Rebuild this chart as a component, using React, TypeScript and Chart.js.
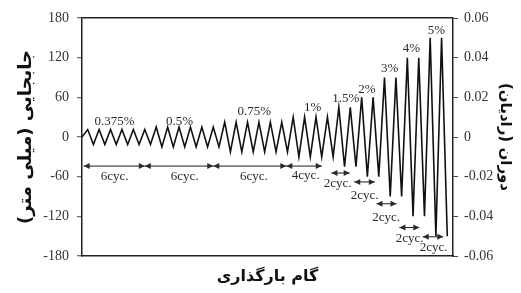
import React, { useEffect, useRef } from "react";
import { Chart, registerables } from "chart.js";

Chart.register(...registerables);

// Displacement history (mm): start, then peak / trough of every cycle
const DISP = [
  0,
  11.25, -11.25, 11.25, -11.25, 11.25, -11.25, 11.25, -11.25, 11.25, -11.25, 11.25, -11.25,
  15, -15, 15, -15, 15, -15, 15, -15, 15, -15, 15, -15,
  22.5, -22.5, 22.5, -22.5, 22.5, -22.5, 22.5, -22.5, 22.5, -22.5, 22.5, -22.5,
  30, -30, 30, -30, 30, -30, 30, -30,
  45, -45, 45, -45,
  60, -60, 60, -60,
  90, -90, 90, -90,
  120, -120, 120, -120,
  150, -150, 150, -150,
];
const STEPS = DISP.map((_, i) => i);

const LEFT_TICKS = [-180, -120, -60, 0, 60, 120, 180];
const RIGHT_TICKS = [-0.06, -0.04, -0.02, 0, 0.02, 0.04, 0.06];

// Drift-level labels (step, displacement)
const DRIFT_LABELS = ["0.375%", "0.5%", "0.75%", "1%", "1.5%", "2%", "3%", "4%", "5%"];
const DRIFT_X = [5.7, 17.1, 30.2, 40.4, 46.2, 49.9, 53.9, 57.7, 62.1];
const DRIFT_Y = [22.7, 22.7, 37.8, 45, 57.5, 71, 104, 134, 161];

// Cycle-count arrows
const CYC_LABELS = ["6cyc.", "6cyc.", "6cyc.", "4cyc.", "2cyc.", "2cyc.", "2cyc.", "2cyc.", "2cyc."];
const CYC_FROM = [0.3, 11, 23, 35.8, 43.7, 47.7, 51.6, 55.6, 59.7];
const CYC_TO = [11, 23, 35.8, 42, 46.9, 51.3, 55.1, 59.1, 63.3];
const CYC_Y = [-44, -44, -44, -44, -54.5, -68, -101, -137, -151];
const CYC_TEXT_X = [5.7, 18, 30.1, 39.2, 44.8, 49.5, 53.3, 57.4, 61.6];
const CYC_TEXT_Y = [-60, -60, -60, -58, -71, -89, -122, -154, -168];

const annotationPlugin = {
  id: "annotations",
  afterDatasetsDraw(chart: any) {
    const { ctx } = chart;
    const x = chart.scales.x;
    const y = chart.scales.y;
    ctx.save();
    ctx.fillStyle = "#2a2a2a";
    ctx.strokeStyle = "#1a1a1a";
    ctx.textAlign = "center";
    ctx.textBaseline = "middle";
    ctx.font = '13px "Liberation Serif"';
    DRIFT_LABELS.forEach((t, i) => {
      ctx.fillText(t, x.getPixelForValue(DRIFT_X[i]), y.getPixelForValue(DRIFT_Y[i]));
    });
    const head = (tipX: number, py: number, dir: number) => {
      ctx.beginPath();
      ctx.moveTo(tipX, py);
      ctx.lineTo(tipX - dir * 6, py - 3);
      ctx.lineTo(tipX - dir * 6, py + 3);
      ctx.closePath();
      ctx.fill();
    };
    CYC_LABELS.forEach((t, i) => {
      const x1 = x.getPixelForValue(CYC_FROM[i]);
      const x2 = x.getPixelForValue(CYC_TO[i]);
      const py = y.getPixelForValue(CYC_Y[i]);
      ctx.lineWidth = 1;
      ctx.beginPath();
      ctx.moveTo(x1, py);
      ctx.lineTo(x2, py);
      ctx.stroke();
      head(x1, py, -1);
      head(x2, py, 1);
      ctx.fillText(t, x.getPixelForValue(CYC_TEXT_X[i]), y.getPixelForValue(CYC_TEXT_Y[i]));
    });
    ctx.restore();
  },
};

export default function App() {
  const ref = useRef<HTMLCanvasElement | null>(null);
  useEffect(() => {
    if (!ref.current) return;
    const tickFont = { family: '"Liberation Serif"', size: 14 };
    const chart = new Chart(ref.current, {
      type: "line",
      data: {
        labels: STEPS,
        datasets: [
          {
            data: DISP,
            borderColor: "#111",
            borderWidth: 1.6,
            pointRadius: 0,
            tension: 0,
            yAxisID: "y",
          },
        ],
      },
      options: {
        responsive: false,
        animation: false,
        devicePixelRatio: 1,
        layout: { padding: { top: 18, left: 0, right: 0, bottom: 0 } },
        plugins: { legend: { display: false }, tooltip: { enabled: false } },
        scales: {
          x: {
            type: "linear",
            min: 0,
            max: 65,
            ticks: { display: false },
            grid: { display: false, drawTicks: false },
            border: { display: true, color: "#222", width: 1.5 },
            title: {
              display: true,
              text: "گام بارگذاری",
              font: { family: '"DejaVu Sans"', size: 16, weight: "bold" },
              color: "#111",
              padding: { top: 0, bottom: 7 },
            },
            afterFit: (s: any) => {
              s.height = 37;
            },
          },
          y: {
            position: "left",
            min: -180,
            max: 180,
            afterBuildTicks: (s: any) => {
              s.ticks = LEFT_TICKS.map((v) => ({ value: v }));
            },
            ticks: { font: tickFont, color: "#333", padding: 8 },
            grid: {
              display: true,
              drawOnChartArea: true,
              drawTicks: true,
              tickLength: 5,
              tickColor: "#444",
              tickWidth: 1,
              lineWidth: 1.5,
              color: (c: any) => (c.tick && c.tick.value === 180 ? "#222" : "rgba(0,0,0,0)"),
            },
            border: { display: true, color: "#222", width: 1.5 },
            title: {
              display: true,
              text: "جابجایی (میلی متر)\u200F",
              font: { family: '"DejaVu Sans"', size: 18, weight: "bold" },
              color: "#111",
              padding: { top: 16, bottom: 0 },
            },
            afterFit: (s: any) => {
              s.width = 82;
            },
          },
          y2: {
            position: "right",
            min: -0.06,
            max: 0.06,
            afterBuildTicks: (s: any) => {
              s.ticks = RIGHT_TICKS.map((v) => ({ value: v }));
            },
            ticks: {
              font: tickFont,
              color: "#333",
              padding: 6,
              callback: (v: any) => String(Number(Number(v).toFixed(2))),
            },
            grid: {
              display: true,
              drawOnChartArea: false,
              drawTicks: true,
              tickLength: 5,
              tickColor: "#444",
              tickWidth: 1,
            },
            border: { display: true, color: "#222", width: 1.5 },
            title: {
              display: true,
              text: "دوران (رادیان)\u200F",
              font: { family: '"DejaVu Sans"', size: 15, weight: "bold" },
              color: "#111",
              padding: { top: 7, bottom: 0 },
            },
            afterFit: (s: any) => {
              s.width = 68;
            },
          },
        },
      },
      plugins: [annotationPlugin],
    });
    return () => chart.destroy();
  }, []);
  return (
    <div style={{ position: "absolute", left: 0, top: 0, width: 521, height: 293, background: "#fff" }}>
      <canvas ref={ref} width={521} height={293} style={{ width: 521, height: 293 }} />
    </div>
  );
}
